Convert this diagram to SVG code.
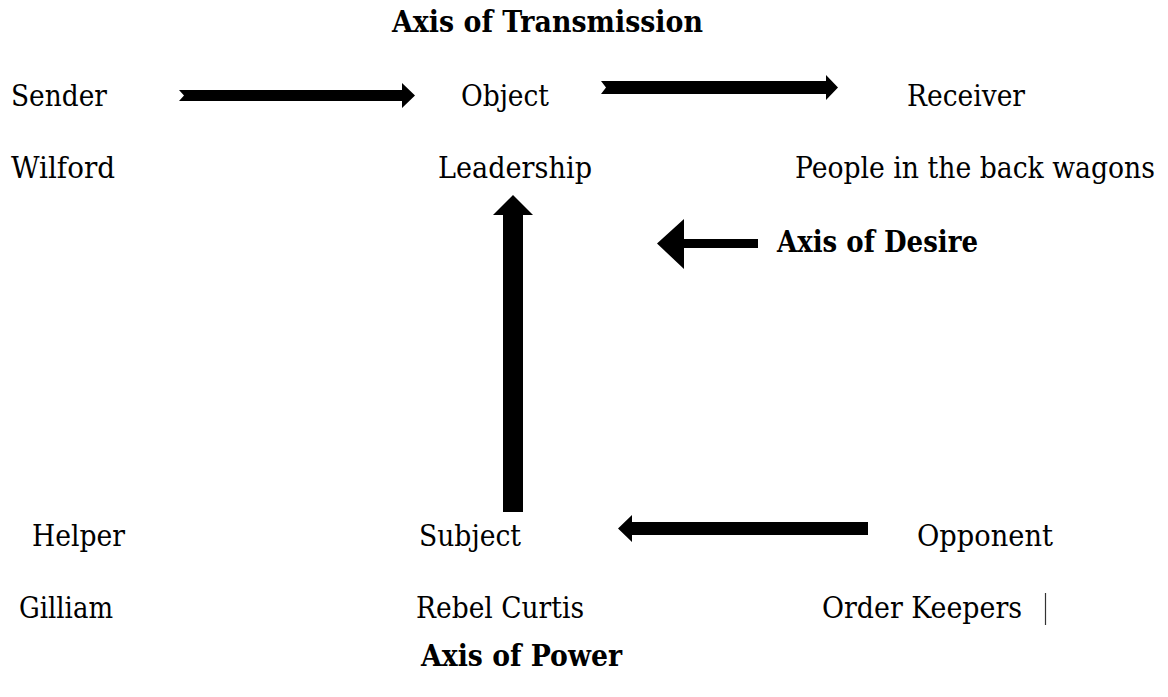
<svg xmlns="http://www.w3.org/2000/svg" width="1168" height="697" viewBox="0 0 1168 697">
  <style>
    text { font-family: "DejaVu Serif", "Liberation Serif", serif; font-size: 30px; fill: #000; }
    .axis { font-weight: bold; }
    .narrow { font-family: "DejaVu Serif Condensed", "DejaVu Serif", serif; font-stretch: condensed; }
    .arrow { fill: #000; }
  </style>
  <rect width="1168" height="697" fill="#fff"/>

  <!-- axis titles -->
  <g id="axis-transmission"><text class="axis" x="392" y="32" textLength="311" lengthAdjust="spacingAndGlyphs">Axis of Transmission</text></g>
  <g id="axis-desire"><text class="axis" x="777" y="252" textLength="201" lengthAdjust="spacingAndGlyphs">Axis of Desire</text></g>
  <g id="axis-power"><text class="axis" x="421" y="666" textLength="201" lengthAdjust="spacingAndGlyphs">Axis of Power</text></g>

  <!-- actants, top row -->
  <g id="sender">
    <text x="11" y="106" textLength="96" lengthAdjust="spacingAndGlyphs">Sender</text>
    <text x="11" y="178" textLength="104" lengthAdjust="spacingAndGlyphs">Wilford</text>
  </g>
  <g id="object">
    <text x="461" y="106" textLength="88" lengthAdjust="spacingAndGlyphs">Object</text>
    <text x="438" y="178" textLength="154" lengthAdjust="spacingAndGlyphs">Leadership</text>
  </g>
  <g id="receiver">
    <text x="907" y="106" textLength="118" lengthAdjust="spacingAndGlyphs">Receiver</text>
    <text class="narrow" x="795" y="178" textLength="360" lengthAdjust="spacingAndGlyphs">People in the back wagons</text>
  </g>

  <!-- actants, bottom row -->
  <g id="helper">
    <text x="32" y="546" textLength="93" lengthAdjust="spacingAndGlyphs">Helper</text>
    <text x="19" y="618" textLength="94" lengthAdjust="spacingAndGlyphs">Gilliam</text>
  </g>
  <g id="subject">
    <text x="419" y="546" textLength="102" lengthAdjust="spacingAndGlyphs">Subject</text>
    <text x="416" y="618" textLength="168" lengthAdjust="spacingAndGlyphs">Rebel Curtis</text>
  </g>
  <g id="opponent">
    <text x="917" y="546" textLength="136" lengthAdjust="spacingAndGlyphs">Opponent</text>
    <text x="822" y="618" textLength="200" lengthAdjust="spacingAndGlyphs">Order Keepers</text>
    <line x1="1045.5" y1="593" x2="1045.5" y2="625" stroke="#333" stroke-width="1.2"/>
  </g>

  <!-- connectors -->
  <g id="connectors">
    <!-- sender to object -->
    <polygon class="arrow" points="179,90 402,90 402,83 415,95.5 402,108 402,101 179,101 184,95.5"/>
    <!-- object to receiver -->
    <polygon class="arrow" points="601,81 826,81 826,75 838,87.5 826,100 826,94 601,94 606,87.5"/>
    <!-- subject up to object -->
    <polygon class="arrow" points="503,512 503,215 493,215 513,195 533,215 523,215 523,512"/>
    <!-- axis of desire -->
    <polygon class="arrow" points="758,239 684,239 684,219 657,243.5 684,269 684,248 758,248"/>
    <!-- opponent to subject -->
    <polygon class="arrow" points="868,522 632,522 632,515 618,528.5 632,542 632,535 868,535"/>
  </g>
</svg>
